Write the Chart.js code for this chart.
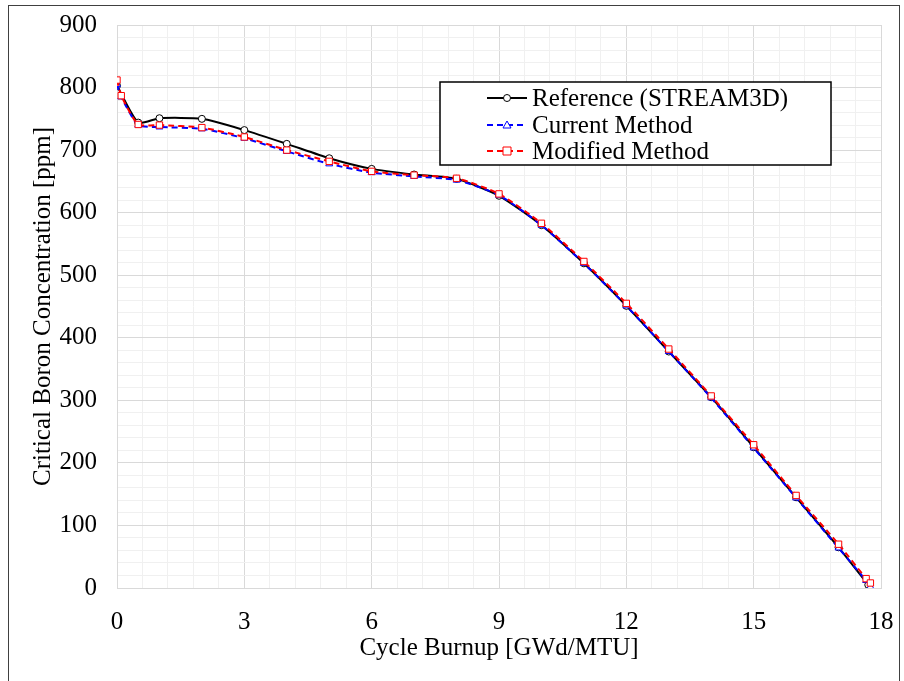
<!DOCTYPE html>
<html>
<head>
<meta charset="utf-8">
<script src="https://cdn.jsdelivr.net/npm/chart.js@4.4.0/dist/chart.umd.min.js"></script>
<style>
  html, body { margin: 0; padding: 0; background: #fff; }
  #wrap { position: relative; width: 904px; height: 681px; }
  #frame { position: absolute; left: 8px; top: 5px; width: 890px; height: 690px; border: 1px solid #404040; pointer-events: none; }
  canvas { position: absolute; left: 0; top: 0; }
</style>
</head>
<body>
<div id="wrap">
  <canvas id="boronChart" width="904" height="681"></canvas>
  <div id="frame"></div>
</div>
<script>
// Critical boron concentration vs cycle burnup
const refBurnup = [0, 0.5, 1, 2, 3, 4, 5, 6, 7, 8, 9, 10, 11, 12, 13, 14, 15, 16, 17, 17.7];
const refBoron = [803, 744, 751, 750, 732, 710, 687, 670, 661, 654, 627, 580, 519, 451, 378, 305, 225, 145, 65, 5];

const curBurnup = [0, 0.1, 0.5, 1, 2, 3, 4, 5, 6, 7, 8, 9, 10, 11, 12, 13, 14, 15, 16, 17, 17.65, 17.75];
const curBoron = [805, 785, 740, 737, 734, 719, 698, 678, 664, 658, 652, 628, 580, 519, 451, 378, 304, 224, 144, 64, 12, 2];

const modBurnup = [0, 0.1, 0.5, 1, 2, 3, 4, 5, 6, 7, 8, 9, 10, 11, 12, 13, 14, 15, 16, 17, 17.65, 17.75];
const modBoron = [812, 787, 741, 740, 736, 721, 700, 682, 666, 660, 655, 630, 583, 522, 455, 382, 307, 229, 148, 70, 15, 8];

const seriesNames = ['Reference (STREAM3D)', 'Current Method', 'Modified Method'];
const xTicks = [0, 3, 6, 9, 12, 15, 18];
const yTicks = [0, 100, 200, 300, 400, 500, 600, 700, 800, 900];

const FONT = 'Liberation Serif, Times New Roman, serif';

function toPoints(xs, ys) {
  return xs.map((x, i) => ({ x: x, y: ys[i] }));
}

function isMajor(v, list) {
  return list.some(t => Math.abs(t - v) < 1e-6);
}

// legend drawn as a bordered box inside the plot
const boxLegend = {
  id: 'boxLegend',
  afterDatasetsDraw(chart) {
    const ctx = chart.ctx;
    const x0 = 440, y0 = 82, w = 391, h = 83;
    ctx.save();
    ctx.fillStyle = '#fff';
    ctx.fillRect(x0, y0, w, h);
    ctx.strokeStyle = '#000';
    ctx.lineWidth = 1.5;
    ctx.strokeRect(x0, y0, w, h);
    const rows = [98, 125, 151];
    chart.data.datasets.forEach((ds, i) => {
      const y = rows[i];
      ctx.strokeStyle = ds.borderColor;
      ctx.lineWidth = 2;
      ctx.setLineDash(ds.borderDash || []);
      ctx.beginPath();
      ctx.moveTo(487, y);
      ctx.lineTo(527, y);
      ctx.stroke();
      ctx.setLineDash([]);
      ctx.lineWidth = 1;
      ctx.fillStyle = '#fff';
      const px = 507;
      ctx.beginPath();
      if (ds.pointStyle === 'circle') {
        ctx.arc(px, y, 3.5, 0, Math.PI * 2);
      } else if (ds.pointStyle === 'triangle') {
        ctx.moveTo(px, y - 4);
        ctx.lineTo(px + 4, y + 3);
        ctx.lineTo(px - 4, y + 3);
        ctx.closePath();
      } else {
        ctx.rect(px - 4, y - 4, 8, 8);
      }
      ctx.fill();
      ctx.stroke();
      ctx.fillStyle = '#000';
      ctx.font = '25px ' + FONT;
      ctx.textBaseline = 'middle';
      ctx.fillText(ds.label, 532, y + 1);
    });
    ctx.restore();
  }
};

const ctx = document.getElementById('boronChart').getContext('2d');
new Chart(ctx, {
  type: 'line',
  data: {
    datasets: [{
      label: seriesNames[0],
      data: toPoints(refBurnup, refBoron),
      borderColor: '#000000',
      backgroundColor: '#ffffff',
      borderWidth: 2,
      pointStyle: 'circle',
      pointRadius: 3.5,
      pointBorderWidth: 1,
      tension: 0.2,
      order: 3
    }, {
      label: seriesNames[1],
      data: toPoints(curBurnup, curBoron),
      borderColor: '#0000ff',
      backgroundColor: '#ffffff',
      borderWidth: 2,
      borderDash: [6, 4],
      pointStyle: 'triangle',
      pointRadius: 4,
      pointBorderWidth: 1,
      tension: 0.2,
      order: 2
    }, {
      label: seriesNames[2],
      data: toPoints(modBurnup, modBoron),
      borderColor: '#ff0000',
      backgroundColor: '#ffffff',
      borderWidth: 2,
      borderDash: [6, 4],
      pointStyle: 'rect',
      pointRadius: 4.5,
      pointBorderWidth: 1,
      tension: 0.2,
      order: 1
    }]
  },
  options: {
    responsive: false,
    animation: false,
    layout: { padding: { left: 28, top: 25, right: 23, bottom: 18 } },
    plugins: {
      legend: { display: false },
      tooltip: { enabled: false }
    },
    scales: {
      x: {
        type: 'linear',
        min: 0,
        max: 18,
        afterBuildTicks(scale) {
          const t = [];
          for (let i = 0; i <= 30; i++) t.push({ value: Math.round(i * 0.6 * 10) / 10 });
          scale.ticks = t;
        },
        afterFit(scale) {
          scale.height = 75;
          scale.paddingLeft = 0;
          scale.paddingRight = 0;
        },
        grid: {
          color: c => isMajor(c.tick.value, xTicks) ? '#d9d9d9' : '#f0f0f0',
          lineWidth: 1,
          drawTicks: false
        },
        border: { color: '#d9d9d9' },
        ticks: {
          autoSkip: false,
          maxRotation: 0,
          padding: 19,
          color: '#000',
          font: { family: FONT, size: 25 },
          callback: v => isMajor(v, xTicks) ? String(Math.round(v)) : ''
        },
        title: {
          display: true,
          text: 'Cycle Burnup [GWd/MTU]',
          color: '#000',
          font: { family: FONT, size: 25 },
          padding: { top: 0, bottom: 0 }
        }
      },
      y: {
        type: 'linear',
        min: 0,
        max: 900,
        afterBuildTicks(scale) {
          const t = [];
          for (let v = 0; v <= 900; v += 20) t.push({ value: v });
          scale.ticks = t;
        },
        afterFit(scale) {
          scale.width = 89;
          scale.paddingTop = 0;
          scale.paddingBottom = 0;
        },
        grid: {
          color: c => isMajor(c.tick.value, yTicks) ? '#d9d9d9' : '#f0f0f0',
          lineWidth: 1,
          drawTicks: false
        },
        border: { color: '#d9d9d9' },
        ticks: {
          autoSkip: false,
          padding: 20,
          color: '#000',
          font: { family: FONT, size: 25 },
          callback: v => isMajor(v, yTicks) ? String(v) : ''
        },
        title: {
          display: true,
          text: 'Critical Boron Concentration [ppm]',
          color: '#000',
          font: { family: FONT, size: 25 },
          padding: { top: 0, bottom: 0 }
        }
      }
    }
  },
  plugins: [boxLegend]
});
</script>
</body>
</html>
